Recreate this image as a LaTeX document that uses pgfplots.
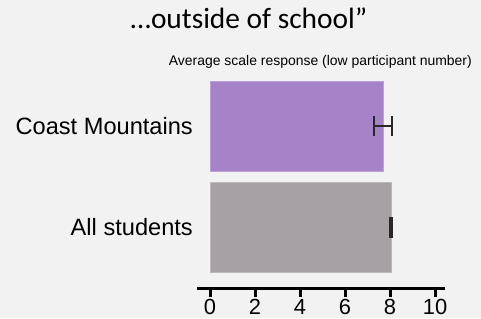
\documentclass[border=0pt]{standalone}
\usepackage{pgfplots}
\pgfplotsset{compat=1.18}
\usepackage{fontspec}
\setmainfont{Liberation Sans}
\newfontfamily\titlefont{Carlito}
\definecolor{bgcol}{RGB}{242,242,242}
\definecolor{barpurple}{RGB}{166,130,200}
\definecolor{bargray}{RGB}{166,161,165}
\definecolor{errcol}{RGB}{40,40,40}
\begin{document}
\begin{tikzpicture}[x=1bp,y=1bp]
\fill[bgcol] (0,0) rectangle (481,318);
\useasboundingbox (0,0) rectangle (481,318);
\node[anchor=base, inner sep=0pt] at (249,290) {\titlefont\fontsize{29.5}{29.5}\selectfont …outside of school”};
\node[anchor=base east, inner sep=0pt] at (472,253) {\fontsize{14}{14}\selectfont Average scale response (low participant number)};
\begin{axis}[
  at={(197bp,30bp)}, anchor=south west,
  scale only axis, width=248bp, height=212.1bp,
  xmin=-0.578, xmax=10.444, ymin=-0.6, ymax=1.5,
  axis lines*=left,
  y axis line style={draw=none},
  x axis line style={line width=3bp, line cap=butt},
  xtick={0,2,4,6,8,10},
  ytick={0,1},
  yticklabels={All students, Coast Mountains},
  tick align=outside,
  major tick length=9bp,
  major x tick style={line width=3bp, black},
  major y tick style={draw=none},
  /pgf/number format/assume math mode=true,
  xticklabel style={font=\fontsize{22}{22}\selectfont, inner sep=2bp},
  yticklabel style={font=\fontsize{23.7}{23.7}\selectfont, inner sep=0pt, xshift=5bp},
  clip=false,
]
\addplot[xbar, bar shift=0pt, bar width=90bp, fill=barpurple, draw=barpurple!75!white, line width=0.8bp,
  error bars/.cd, x dir=both, x explicit, error mark=|,
  error bar style={line width=2bp, errcol},
  error mark options={line width=2bp, errcol, mark size=10bp}]
  coordinates {(7.70,1) +- (0.39,0)};
\addplot[xbar, bar shift=0pt, bar width=90bp, fill=bargray, draw=bargray!75!white, line width=0.8bp,
  error bars/.cd, x dir=both, x explicit, error mark=|,
  error bar style={line width=2bp, errcol},
  error mark options={line width=2bp, errcol, mark size=10.5bp}]
  coordinates {(8.04,0) +- (0.04,0)};
\end{axis}
\end{tikzpicture}
\end{document}
